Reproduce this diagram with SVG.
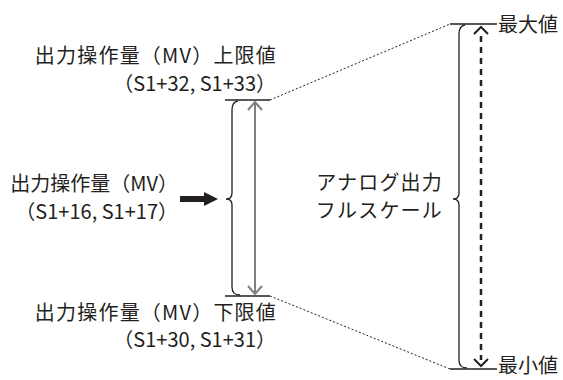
<svg xmlns="http://www.w3.org/2000/svg" width="563" height="380" viewBox="0 0 563 380">
<style>
text{font-family:"Noto Sans CJK JP","Noto Sans",sans-serif;font-size:20px;fill:#231f20}
.wide{letter-spacing:1.2px}
.ln{stroke:#231f20;stroke-width:1.3;fill:none}
.dot{stroke:#231f20;stroke-width:1;stroke-dasharray:2 2;fill:none}
.gray{stroke:#808080;stroke-width:2;fill:none}
.dash{stroke:#231f20;stroke-width:2.5;stroke-dasharray:6 5;fill:none}
</style>
<rect width="563" height="380" fill="#fff"/>
<g id="connectors">
<line class="dot" x1="270" y1="100" x2="450" y2="24"/>
<line class="dot" x1="270" y1="296" x2="450" y2="369"/>
<line x1="180" y1="199" x2="206" y2="199" style="stroke:#231f20;stroke-width:6"/>
<polygon points="204,192 218,199 204,206" fill="#231f20"/>
</g>
<g id="left-range">
<line class="ln" x1="225" y1="100" x2="270" y2="100"/>
<line class="ln" x1="225" y1="296" x2="270" y2="296"/>
<path class="ln" d="M238 101 Q232 102 232 110 V193 Q232 199 226 199 Q232 199 232 205 V287 Q232 295 240 295"/>
<line class="gray" x1="255" y1="102" x2="255" y2="294"/>
<path class="gray" d="M248 110 L255 102 L262 110 M248 286 L255 294 L262 286"/>
</g>
<g id="right-range">
<line class="ln" x1="450" y1="24" x2="497" y2="24"/>
<line class="ln" x1="450" y1="369" x2="497" y2="369"/>
<path class="ln" d="M465 25 Q459 26 459 34 V193 Q459 199 453 199 Q459 199 459 205 V360 Q459 368 467 368"/>
<line class="dash" x1="481" y1="36" x2="481" y2="360"/>
<path class="ln" d="M474 34 L481 27 L488 34 M474 359 L481 366 L488 359" style="stroke-width:2"/>
</g>
<g id="label-upper">
<text class="wide" x="277" y="63" text-anchor="end">出力操作量（MV）上限値</text>
<text x="276" y="91" text-anchor="end">（S1+32, S1+33）</text>
</g>
<g id="label-mv">
<text x="178" y="191" text-anchor="end">出力操作量（MV）</text>
<text x="178" y="219" text-anchor="end">（S1+16, S1+17）</text>
</g>
<g id="label-lower">
<text class="wide" x="277" y="320" text-anchor="end">出力操作量（MV）下限値</text>
<text x="276" y="347" text-anchor="end">（S1+30, S1+31）</text>
</g>
<g id="label-fullscale">
<text class="wide" x="443" y="190" text-anchor="end">アナログ出力</text>
<text class="wide" x="443" y="218" text-anchor="end">フルスケール</text>
</g>
<g id="label-max"><text x="498" y="32">最大値</text></g>
<g id="label-min"><text x="498" y="373">最小値</text></g>
</svg>
